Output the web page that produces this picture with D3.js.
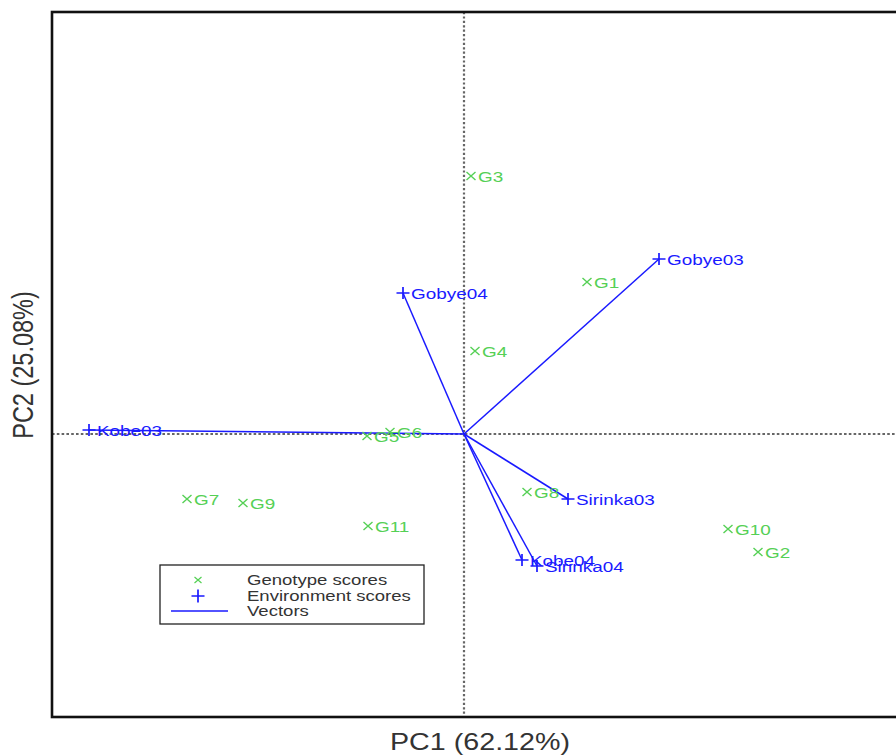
<!DOCTYPE html>
<html>
<head>
<meta charset="utf-8">
<script src="https://cdn.jsdelivr.net/npm/d3@7"></script>
<style>
  body { margin: 0; background: #fff; }
  text { font-family: "Liberation Sans", Arial, sans-serif; }
</style>
</head>
<body>
<div id="chart"></div>
<script>
// genotype scores
var genoNames = ["G1", "G2", "G3", "G4", "G5", "G6", "G7", "G8", "G9", "G10", "G11"];
var genoPC1 = [1.23, 2.94, 0.07, 0.11, -0.97, -0.74, -2.77, 0.63, -2.21, 2.64, -0.96];
var genoPC2 = [1.52, -1.18, 2.58, 0.83, -0.02, 0.02, -0.65, -0.58, -0.69, -0.95, -0.92];
// environment scores
var envNames = ["Gobye03", "Gobye04", "Kobe03", "Kobe04", "Sirinka03", "Sirinka04"];
var envPC1 = [1.95, -0.61, -3.75, 0.58, 1.04, 0.73];
var envPC2 = [1.75, 1.41, 0.04, -1.26, -0.65, -1.32];
var legendLabels = ["Genotype scores", "Environment scores", "Vectors"];

var W = 896, H = 755;
var green = "#55d055", blue = "#1a1aff";
var sx = 1.22; // the picture is a little stretched sideways

var x = d3.scaleLinear().domain([-4.12, 4.46]).range([52, 910]);
var y = d3.scaleLinear().domain([-2.83, 4.22]).range([717, 12]);

var svg = d3.select("#chart").append("svg")
    .attr("width", W)
    .attr("height", H);

// reference lines through origin
svg.append("line")
    .attr("x1", x(0)).attr("x2", x(0))
    .attr("y1", y.range()[1]).attr("y2", y.range()[0])
    .attr("stroke", "#666").attr("stroke-width", 2.2)
    .attr("stroke-dasharray", "2.2,2.2");
svg.append("line")
    .attr("x1", x.range()[0]).attr("x2", x.range()[1])
    .attr("y1", y(0)).attr("y2", y(0))
    .attr("stroke", "#666").attr("stroke-width", 2)
    .attr("stroke-dasharray", "2.6,2.2");

var env = envNames.map(function (n, i) { return {name: n, x: envPC1[i], y: envPC2[i]}; });
var geno = genoNames.map(function (n, i) { return {name: n, x: genoPC1[i], y: genoPC2[i]}; });

// vectors
svg.selectAll(".vec")
    .data(env)
    .enter().append("line")
    .attr("class", "vec")
    .attr("x1", x(0)).attr("y1", y(0))
    .attr("x2", function (d) { return x(d.x); })
    .attr("y2", function (d) { return y(d.y); })
    .attr("stroke", blue).attr("stroke-width", 1.5);

// genotype markers
var g = svg.selectAll(".geno")
    .data(geno)
    .enter().append("g")
    .attr("class", "geno")
    .attr("transform", function (d) { return "translate(" + x(d.x) + "," + y(d.y) + ")"; });
g.append("path")
    .attr("d", "M-4.5,-4L4.5,4M-4.5,4L4.5,-4")
    .attr("stroke", green).attr("stroke-width", 1.4);
g.append("text")
    .attr("transform", "translate(7,0) scale(" + sx + ",1)")
    .attr("dy", "0.36em")
    .attr("font-size", 15.5)
    .attr("fill", green)
    .text(function (d) { return d.name; });

// environment markers
var e = svg.selectAll(".env")
    .data(env)
    .enter().append("g")
    .attr("class", "env")
    .attr("transform", function (d) { return "translate(" + x(d.x) + "," + y(d.y) + ")"; });
e.append("path")
    .attr("d", "M-6.5,0L6.5,0M0,-6L0,6")
    .attr("stroke", blue).attr("stroke-width", 1.7);
e.append("text")
    .attr("transform", "translate(8,0) scale(" + sx + ",1)")
    .attr("dy", "0.36em")
    .attr("font-size", 15.5)
    .attr("fill", blue)
    .text(function (d) { return d.name; });

// frame
svg.append("rect")
    .attr("x", 52).attr("y", 12)
    .attr("width", 858).attr("height", 705)
    .attr("fill", "none")
    .attr("stroke", "#111").attr("stroke-width", 2.6);

// axis titles
svg.append("text")
    .attr("transform", "translate(480,750) scale(" + sx + ",1)")
    .attr("text-anchor", "middle")
    .attr("font-size", 23.5)
    .attr("fill", "#333")
    .text("PC1 (62.12%)");
svg.append("text")
    .attr("transform", "translate(33,365) scale(" + sx + ",1) rotate(-90)")
    .attr("text-anchor", "middle")
    .attr("font-size", 23.5)
    .attr("fill", "#333")
    .text("PC2 (25.08%)");

// legend
var lg = svg.append("g").attr("transform", "translate(160,565)");
lg.append("rect")
    .attr("width", 264).attr("height", 59)
    .attr("fill", "#fff")
    .attr("stroke", "#222").attr("stroke-width", 1.3);
var rowY = [15, 31, 46];
lg.append("path")
    .attr("d", "M" + 34.5 + "," + (rowY[0] - 3) + "l7,6m-7,0l7,-6")
    .attr("stroke", green).attr("stroke-width", 1.2);
lg.append("path")
    .attr("d", "M" + 31.5 + "," + rowY[1] + "h13M38," + (rowY[1] - 6.5) + "v13")
    .attr("stroke", blue).attr("stroke-width", 1.7);
lg.append("line")
    .attr("x1", 11).attr("x2", 68)
    .attr("y1", rowY[2]).attr("y2", rowY[2])
    .attr("stroke", blue).attr("stroke-width", 1.5);
lg.selectAll(".lt")
    .data(legendLabels)
    .enter().append("text")
    .attr("transform", function (d, i) { return "translate(87," + rowY[i] + ") scale(1.28,1)"; })
    .attr("dy", "0.36em")
    .attr("font-size", 14.5)
    .attr("fill", "#333")
    .text(function (d) { return d; });
</script>
</body>
</html>
